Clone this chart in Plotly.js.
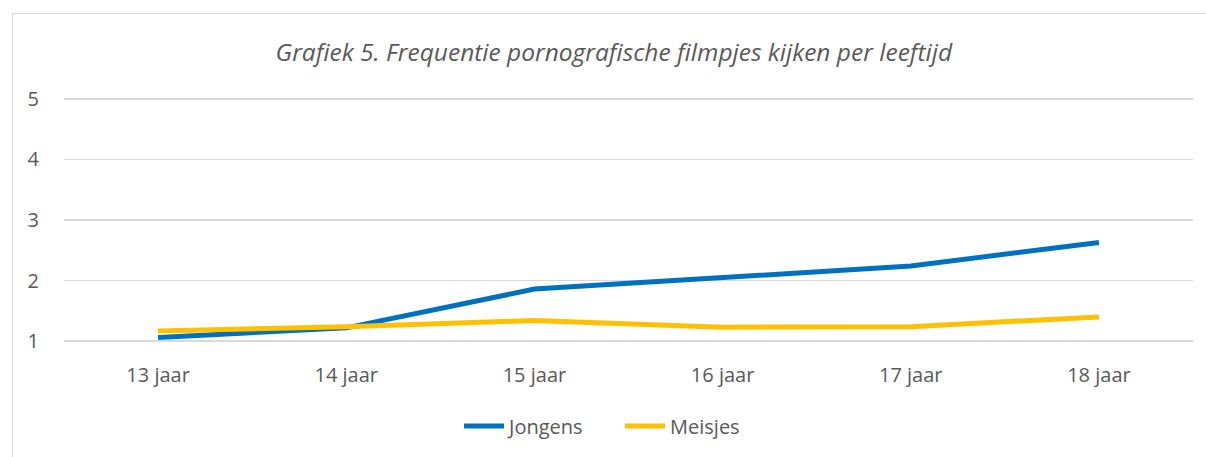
<!DOCTYPE html>
<html>
<head>
<meta charset="utf-8">
<script src="https://cdn.plot.ly/plotly-3.0.1.min.js"></script>
<style>
html, body { margin:0; padding:0; width:1206px; height:457px; overflow:hidden; background:#fff; }
#frame { position:absolute; left:12px; top:13px; width:1200px; height:460px; border:1.5px solid #d9d9d9; box-sizing:border-box; }
#chart { position:absolute; left:0; top:0; width:1206px; height:457px; }
</style>
</head>
<body>
<div id="frame"></div>
<div id="chart"></div>
<script>
const categories = ["13 jaar", "14 jaar", "15 jaar", "16 jaar", "17 jaar", "18 jaar"];
const jongens = [1.06, 1.22, 1.86, 2.04, 2.24, 2.63];
const meisjes = [1.17, 1.24, 1.34, 1.23, 1.24, 1.40];
const yTicks = [1, 2, 3, 4, 5];
const titleText = "Grafiek 5. Frequentie pornografische filmpjes kijken per leeftijd";

const FONT = "Open Sans, Noto Sans, sans-serif";
const GREY = "#595959";

const traces = [
  { x: categories, y: jongens, name: "Jongens", type: "scatter", mode: "lines",
    line: { color: "#0070C0", width: 5 } },
  { x: categories, y: meisjes, name: "Meisjes", type: "scatter", mode: "lines",
    line: { color: "#FFC000", width: 5 } }
];

const layout = {
  width: 1206, height: 457,
  margin: { l: 64, r: 13, t: 97, b: 111 },
  paper_bgcolor: "rgba(0,0,0,0)",
  plot_bgcolor: "rgba(0,0,0,0)",
  font: { family: FONT, color: GREY, size: 20 },
  title: {
    text: "<i>" + titleText + "</i>",
    font: { family: FONT, size: 24.5, color: GREY },
    x: 0.487, xref: "paper", xanchor: "center",
    y: 1 - 52 / 457, yref: "container", yanchor: "middle"
  },
  xaxis: {
    type: "category", range: [-0.5, categories.length - 0.5],
    showgrid: false, zeroline: false, showline: false,
    ticks: "outside", ticklen: 14, tickcolor: "rgba(0,0,0,0)",
    tickfont: { family: FONT, size: 20, color: GREY }
  },
  yaxis: {
    range: [0.97, 5.03], tickvals: yTicks, ticktext: yTicks.map(String),
    showgrid: true, gridcolor: "#d9d9d9", gridwidth: 1.5,
    zeroline: false, showline: false,
    ticks: "outside", ticklen: 20, tickcolor: "rgba(0,0,0,0)",
    tickfont: { family: FONT, size: 20, color: GREY }
  },
  showlegend: true,
  legend: {
    orientation: "h", x: 0.4925, xanchor: "center",
    y: -0.337, yanchor: "middle",
    font: { family: FONT, size: 20, color: GREY },
    itemwidth: 40, entrywidth: 106
  }
};

Plotly.newPlot("chart", traces, layout, { displayModeBar: false, staticPlot: true });
</script>
</body>
</html>
